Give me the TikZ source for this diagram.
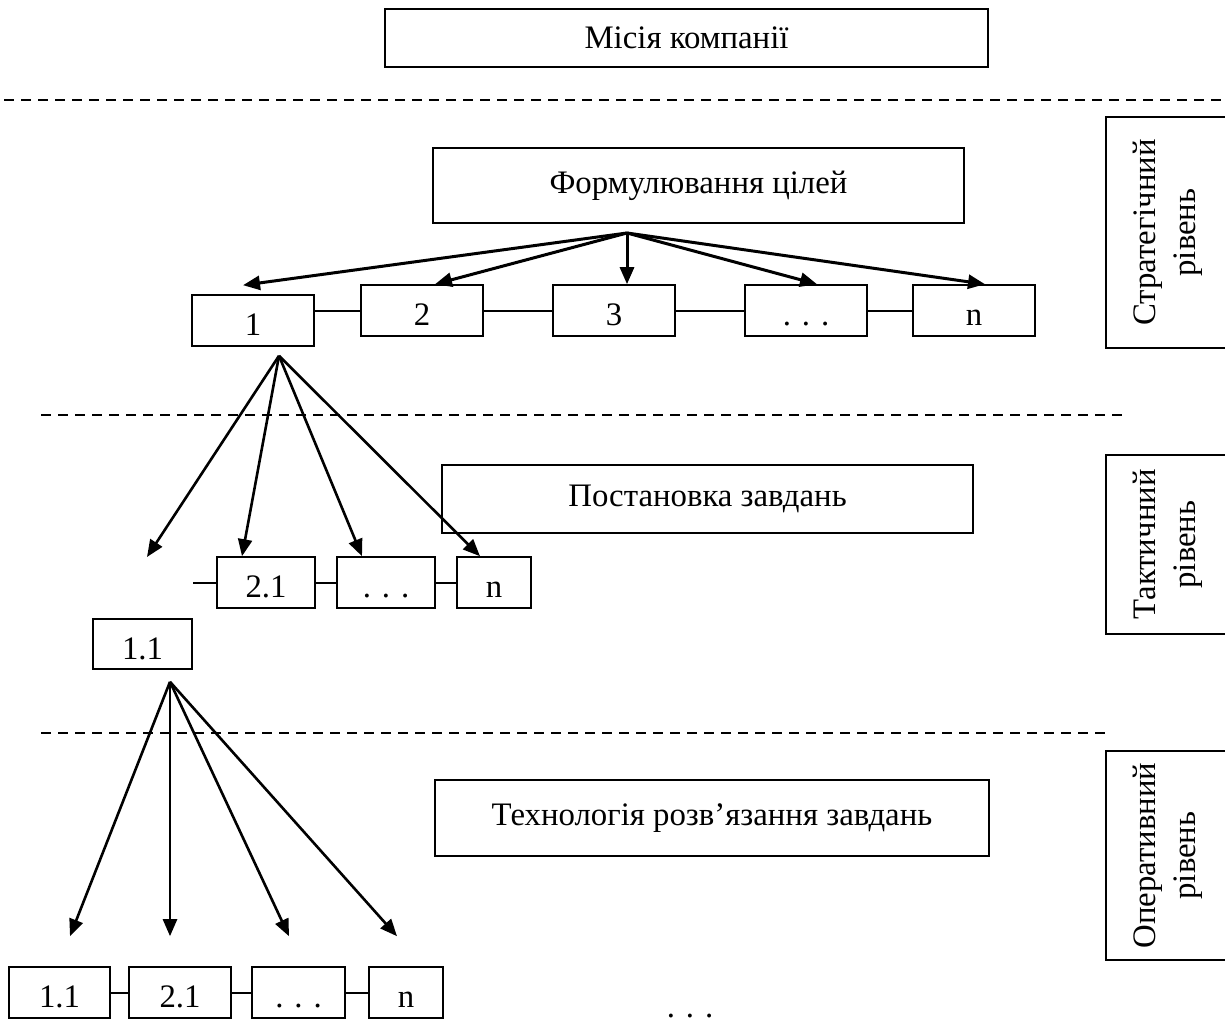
\documentclass[tikz,border=0pt]{standalone}
\usepackage{fontspec}
\setmainfont{Liberation Serif}
\usetikzlibrary{arrows.meta}
\tikzstyle{arrow} = [
	line width=2.6pt,
	->,
	>={Triangle[length=17pt,width=14pt]},
	black,
]
\tikzstyle{link} = [line width=2pt]
\tikzstyle{separator} = [
  line width=1.6pt,
  dash pattern=on 10pt off 7pt
]
\tikzstyle{etap} = [
  rectangle,
  inner sep=0pt,
  text centered,
  draw=black,
  line width=1.6pt,
  font=\fontsize{32.8}{40}\selectfont
]
\tikzstyle{nomer} = [
  etap,
  minimum height=51pt,
  text height=30pt,
  text depth=0pt
]
\tikzstyle{riven} = [
  etap,
  rotate=90,
  align=center,
  line width=2.2pt,
  minimum height=124pt
]

\begin{document}
\begin{tikzpicture}[x=1pt, y=-1pt]
    \useasboundingbox (0,0) rectangle (1225,1024);
    \clip (0,0) rectangle (1225,1024);

    \node[etap, minimum width=603pt, minimum height=58pt] (M) at (686.5,38) {Місія компанії};
    \node[etap, minimum width=531pt, minimum height=75pt] (F) at (698.5,185.5) {Формулювання цілей};
    \node[etap, minimum width=531pt, minimum height=68pt] (P) at (707.5,499) {Постановка завдань};
    \node[etap, minimum width=554pt, minimum height=76pt] (T) at (712,818) {Технологія розв’язання завдань};

    \node[riven, minimum width=231pt] (S) at (1168,232.5) {Стратегічний\\рівень};
    \node[riven, minimum width=179pt] (K) at (1168,544.5) {Тактичний\\рівень};
    \node[riven, minimum width=209pt] (O) at (1168,855.5) {Оперативний\\рівень};

    \draw[separator] (4,100) -- (1225,100);
    \draw[separator] (41,415) -- (1123,415);
    \draw[separator] (41,733) -- (1105,733);

    \node[nomer, minimum width=122pt] (G1) at (253,320.5) {1};
    \node[nomer, minimum width=122pt] (G2) at (422,310.5) {2};
    \node[nomer, minimum width=122pt] (G3) at (614,310.5) {3};
    \node[nomer, minimum width=122pt] (G4) at (806,310.5) {. . .};
    \node[nomer, minimum width=122pt] (Gn) at (974,310.5) {n};

    \node[nomer, minimum width=98pt] (T21) at (266,582.5) {2.1};
    \node[nomer, minimum width=98pt] (T22) at (386,582.5) {. . .};
    \node[nomer, minimum width=74pt] (Tn) at (494,582.5) {n};
    \node[nomer, minimum width=99pt, minimum height=50pt] (T11) at (142.5,644) {1.1};

    \node[nomer, minimum width=101pt] (O11) at (59.5,992.5) {1.1};
    \node[nomer, minimum width=102pt] (O21) at (180,992.5) {2.1};
    \node[nomer, minimum width=93pt] (O22) at (298.5,992.5) {. . .};
    \node[nomer, minimum width=74pt] (On) at (406,992.5) {n};

    \node[font=\fontsize{32.8}{40}\selectfont, anchor=base, inner sep=0pt] (D) at (690,1017) {. . .};

    \coordinate (F0) at (627,233);
    \coordinate (P0) at ([xshift=26pt,yshift=-9pt]G1.south);
    \coordinate (P1) at (147,557);
    \coordinate (T0) at ([xshift=27.5pt,yshift=-12pt]T11.south);

    \draw[arrow, line width=3pt] (F0) -- ([xshift=-10pt,yshift=9pt]G1.north);
    \draw[arrow, line width=3pt] (F0) -- ([xshift=13pt]G2.north);
    \draw[arrow, line width=3pt] (F0) -- (F0 |- G3.north);
    \draw[arrow, line width=3pt] (F0) -- ([xshift=11pt]G4.north);
    \draw[arrow, line width=3pt] (F0) -- ([xshift=11pt]Gn.north);

    \draw[link] (G1.east |- G2.west) -- (G2.west);
    \draw[link] (G2) -- (G3);
    \draw[link] (G3) -- (G4);
    \draw[link] (G4) -- (Gn);

    \draw[arrow] (P0) -- (P1);
    \draw[arrow] (P0) -- ([xshift=-24pt]T21.north);
    \draw[arrow] (P0) -- ([xshift=-24pt]T22.north);
    \draw[arrow] (P0) -- ([xshift=-14pt]Tn.north);

    \draw[link] (T21.west) -- ++(-23,0);
    \draw[link] (T21) -- (T22);
    \draw[link] (T22) -- (Tn);

    \draw[arrow] (T0) -- ([xshift=10.5pt,yshift=30pt]O11.north);
    \draw[arrow] (T0) -- ([xshift=-10pt,yshift=30pt]O21.north);
    \draw[arrow] (T0) -- ([xshift=-9.5pt,yshift=30pt]O22.north);
    \draw[arrow] (T0) -- ([xshift=-9pt,yshift=30pt]On.north);

    \draw[link] (O11) -- (O21);
    \draw[link] (O21) -- (O22);
    \draw[link] (O22) -- (On);
\end{tikzpicture}
\end{document}
